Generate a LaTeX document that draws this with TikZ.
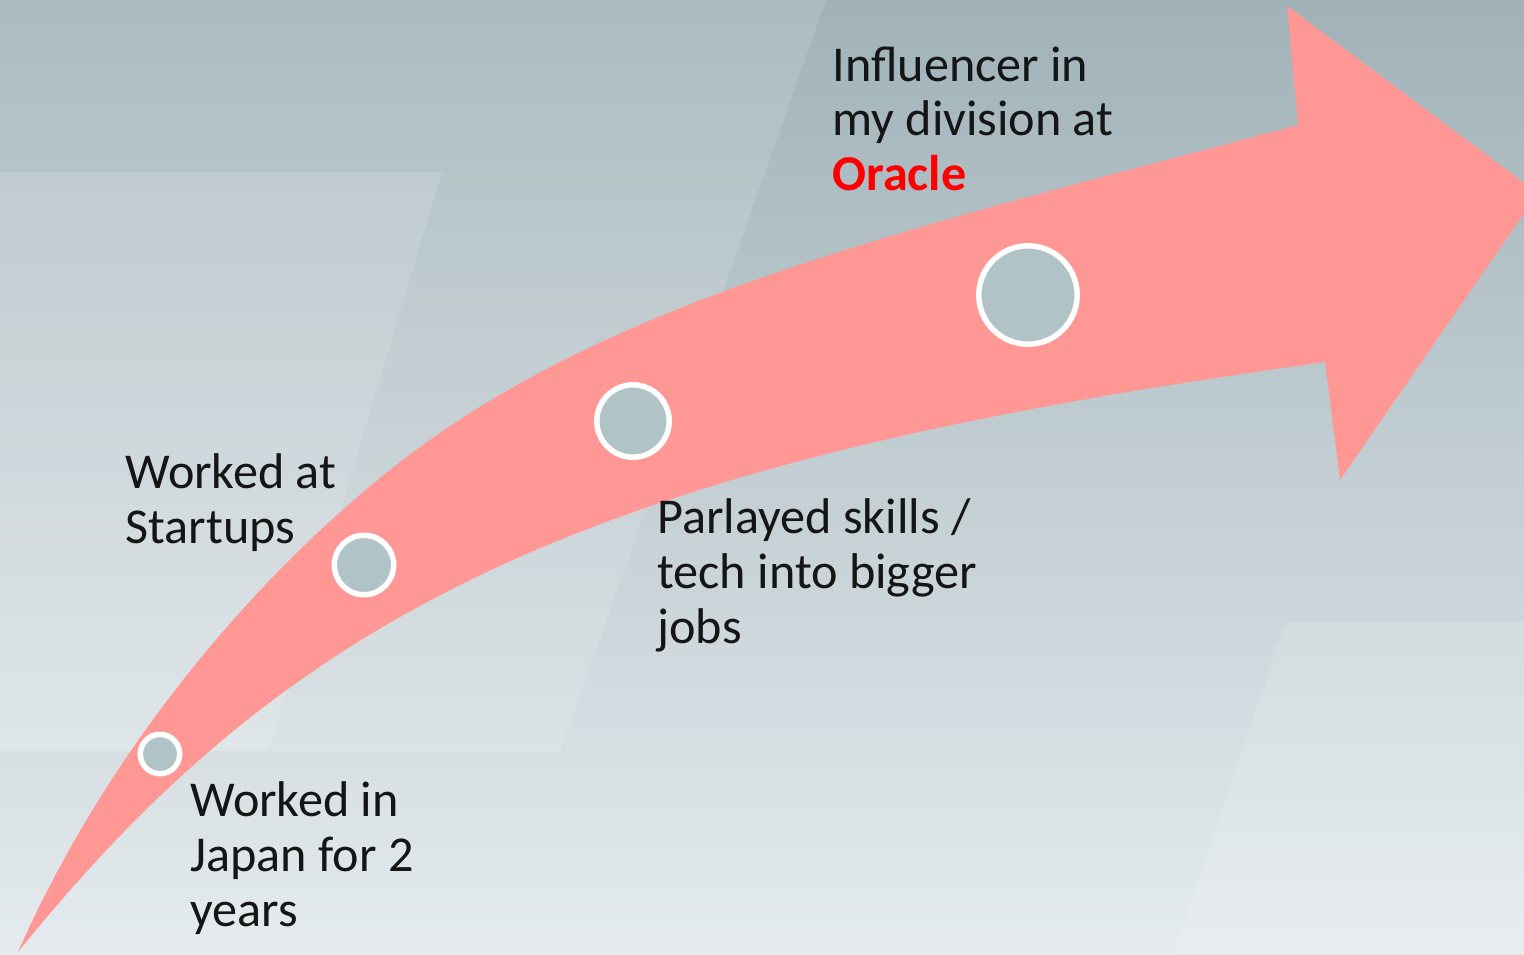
\documentclass[tikz,border=0pt]{standalone}
\usepackage{fontspec}
\setmainfont{Carlito}
\usetikzlibrary{positioning}
\definecolor{bgtop}{HTML}{A0B2B8}
\definecolor{bgmid}{HTML}{C4D0D4}
\definecolor{bgbot}{HTML}{E5EBEE}
\definecolor{arrowpink}{HTML}{FF9795}
\definecolor{dotgrey}{HTML}{B0C3C7}
\definecolor{inktext}{HTML}{151515}

\begin{document}
\begin{tikzpicture}[x=0.5pt,y=-0.5pt,
		font=\fontsize{25.1}{27.3}\selectfont,
		panel/.style={fill=white,fill opacity=.13},
		milestone/.style={circle,draw=white,line width=2.75pt,fill=dotgrey,inner sep=0pt},
		note/.style={anchor=base west,align=left,inner sep=0pt,text=inktext},
	]
		\clip (0,0) rectangle (1524,954);
		% background
		\fill[top color=bgtop,middle color=bgmid,bottom color=bgbot] (0,0) rectangle (1524,954);
		\fill[panel] (0,0) -- (826,0) -- (560,751) -- (0,751) -- cycle;
		\fill[panel] (0,172) -- (442,172) -- (268,751) -- (0,751) -- cycle;
		\fill[panel] (1286,622) -- (1524,622) -- (1524,954) -- (1173,954) -- cycle;
		% the arrow
		\fill[arrowpink] (18,952) .. controls (118,726) and (282,550.5) .. (412,453)
			.. controls (632,288) and (948,219.5) .. (1298,125)
			-- (1287,6) -- (1538,193) -- (1340,480) -- (1325,362)
			.. controls (1025,404) and (710,460) .. (460,585)
			.. controls (280,675) and (148,791) .. (18,952) -- cycle;
		% milestones
		\node[milestone,minimum size=19.7pt] (japan) at (160,754) {};
		\node[milestone,minimum size=29.7pt] (startups) at (364,565) {};
		\node[milestone,minimum size=36.2pt] (skills) at (633,421) {};
		\node[milestone,minimum size=49.2pt] (oracle) at (1028,295) {};
		% texts (base = last line)
		\node[note] (japantext) at (190,926) {Worked in\\Japan for 2\\years};
		\node[note] (startupstext) at (125,543) {Worked at\\Startups};
		\node[note] (skillstext) at (657,643) {Parlayed skills /\\tech into bigger\\jobs};
		\node[note] (oracletext) at (832,190.5) {Influencer in\\my division at\\\textcolor{red}{\textbf{Oracle}}};
	\end{tikzpicture}
\end{document}
